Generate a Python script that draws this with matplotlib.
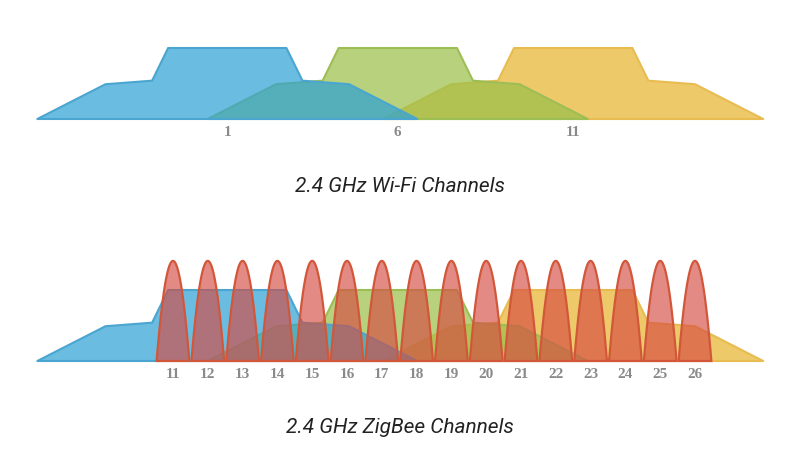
import numpy as np
import matplotlib
matplotlib.use('Agg')
import matplotlib.pyplot as plt
from matplotlib.colors import to_rgba

# Каналы Wi-Fi (центр, МГц, как на картинке) и их цвета
wifi_channels = ['1', '6', '11']
wifi_centers = [2412.8, 2437.3, 2462.5]
wifi_colors = ['#30A3D4', '#9BC04A', '#E6B430']
wifi_edges = ['#4AA6D0', '#9DBE55', '#E8BC50']

# Маска спектра Wi-Fi: смещение от центра (МГц) и относительный уровень
mask_df = [-27.3, -17.5, -10.8, -8.5, 8.5, 10.8, 17.5, 27.3]
mask_lvl = [0, 0.49, 0.54, 1, 1, 0.54, 0.49, 0]

# Каналы ZigBee
zigbee_channels = list(range(11, 27))
zigbee_centers = [2405 + 5 * (c - 11) for c in zigbee_channels]
zigbee_halfwidth = 2.35
zigbee_peak = 1.41

fig = plt.figure(figsize=(8, 4.6), dpi=100)
H = 460.0
f0 = 2405 - 173 / 6.96
f1 = 2405 + 627 / 6.96

ax1 = fig.add_axes([0, (H - 120) / H, 1, 90 / H])
ax2 = fig.add_axes([0, (H - 362) / H, 1, 112 / H])
ax1.set_ylim(0, 90 / 71)
ax2.set_ylim(0, 112 / 71)


def draw_wifi(ax):
    # рисуем справа налево, чтобы синий оказался сверху
    for c, fc, ec in reversed(list(zip(wifi_centers, wifi_colors, wifi_edges))):
        xs = [c + d for d in mask_df]
        ax.fill(xs, mask_lvl, facecolor=to_rgba(fc, 0.72), edgecolor=ec,
                linewidth=1.5, joinstyle='round', clip_on=False)


draw_wifi(ax1)
draw_wifi(ax2)

# Лепестки ZigBee (форма лепестка)
t = np.linspace(-1, 1, 81)
lobe = 1 - t ** 2
for c in zigbee_centers:
    ax2.fill(c + t * zigbee_halfwidth, zigbee_peak * lobe,
             facecolor=to_rgba('#D64B43', 0.65), edgecolor='#D2573A',
             linewidth=1.6, clip_on=False)

for ax in (ax1, ax2):
    ax.set_xlim(f0, f1)
    ax.set_yticks([])
    for s in ax.spines.values():
        s.set_visible(False)
    ax.tick_params(axis='x', length=0, pad=4.5, colors='#8a8a8a')
    ax.patch.set_alpha(0)

ax1.set_xticks(wifi_centers)
ax1.set_xticklabels(wifi_channels, fontsize=11, family='Liberation Serif', weight='bold')
ax2.set_xticks(zigbee_centers)
ax2.set_xticklabels([str(c) for c in zigbee_channels], fontsize=11,
                    family='Liberation Serif', weight='bold')

fig.text(0.5, 1 - 187 / H, '2.4 GHz Wi-Fi Channels', ha='center', va='center',
         fontsize=15, family='Roboto', style='italic', color='#222222')
fig.text(0.5, 1 - 428 / H, '2.4 GHz ZigBee Channels', ha='center', va='center',
         fontsize=15, family='Roboto', style='italic', color='#222222')

fig.savefig('out.png', dpi=100, facecolor='white')
